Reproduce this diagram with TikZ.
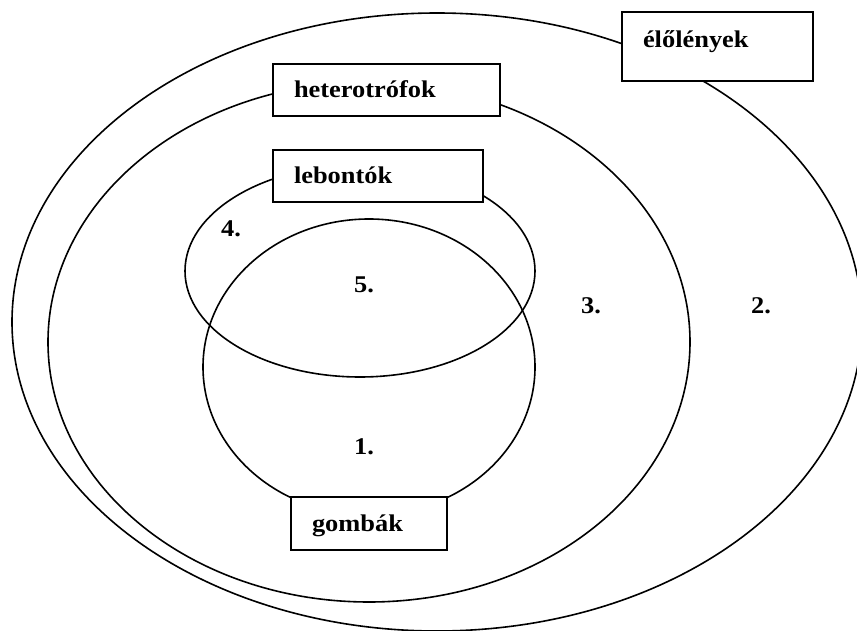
\documentclass[tikz,border=0pt]{standalone}
\usepackage{fontspec}
\setmainfont[FakeStretch=1.1]{Liberation Serif}

\begin{document}
\begin{tikzpicture}[x = 1pt, y = -1pt]
	\tikzstyle{setStyle} = [line width = 1.6pt]
	\tikzstyle{boxStyle} = [shape = rectangle, draw, fill = white, line width = 1.6pt, inner xsep = 21pt, inner ysep = 0pt, align = left, text height = 16pt, text depth = 0pt, font = \bfseries\fontsize{24}{28}\selectfont]
	\tikzstyle{numStyle} = [inner sep = 0pt, font = \bfseries\fontsize{24}{28}\selectfont]
	\useasboundingbox (0,0) rectangle (857,631);
	\clip (0,0) rectangle (857,631);
	\draw[setStyle] (437,322) ellipse [x radius = 425, y radius = 309];
	\draw[setStyle] (369,342) ellipse [x radius = 321, y radius = 260];
	\draw[setStyle] (369,367) ellipse [x radius = 166, y radius = 148];
	\draw[setStyle] (360,271) ellipse [x radius = 175, y radius = 106];
	\node[boxStyle, minimum width = 191pt, minimum height = 69pt, text width = 149pt, text depth = 13pt] (elolenyek) at (717.5,46.5) {élőlények};
	\node[boxStyle, minimum width = 227pt, minimum height = 52pt, text width = 185pt] (heterotrofok) at (386.5,90) {heterotrófok};
	\node[boxStyle, minimum width = 210pt, minimum height = 52pt, text width = 168pt] (lebontok) at (378,176) {lebontók};
	\node[boxStyle, minimum width = 156pt, minimum height = 53pt, text width = 114pt] (gombak) at (369,523.5) {gombák};
	\node[numStyle] (n1) at (364,447) {1.};
	\node[numStyle] (n2) at (761,306) {2.};
	\node[numStyle] (n3) at (591,306) {3.};
	\node[numStyle] (n4) at (231,229) {4.};
	\node[numStyle] (n5) at (364,285) {5.};
\end{tikzpicture}
\end{document}
